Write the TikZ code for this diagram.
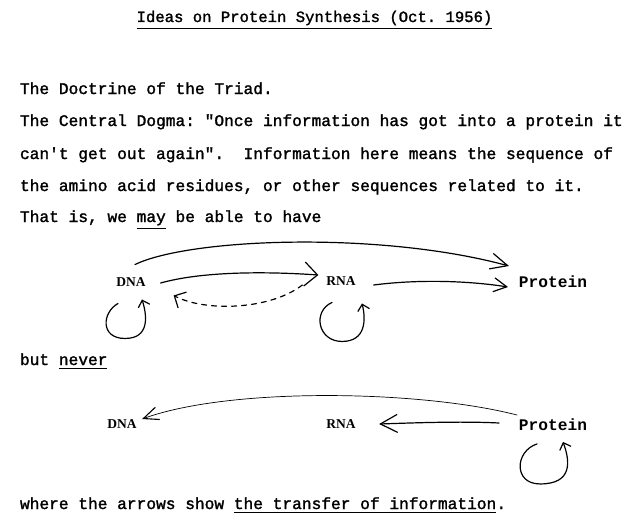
\documentclass[tikz,border=0pt]{standalone}
\usepackage{fontspec}
\setmonofont{Liberation Mono}
\newfontfamily\typefont[FakeBold=1.6]{Liberation Mono}
\newfontfamily\labelfont{Liberation Serif}
\usetikzlibrary{arrows.meta}
\newcommand\typed{\typefont\fontsize{16.2}{19}\selectfont\frenchspacing}
\newcommand\undl[1]{\leavevmode\vtop{\hbox{#1}\kern2.5pt\hrule height 1.1pt}}
\begin{document}
\begin{tikzpicture}[x=1pt, y=-1pt, line width=1.2pt, line cap=round,
  every node/.style={inner sep=0pt, outer sep=0pt}]
	\tikzstyle{line} = [anchor=base west, font=\typed]
	\tikzstyle{mol} = [font=\labelfont\bfseries\fontsize{13.5}{13.5}\selectfont]
	\tikzstyle{prot} = [font=\ttfamily\bfseries\fontsize{16.2}{16}\selectfont]
	\tikzstyle{thin} = [line width=0.7pt]
	\fill[white] (0,0) rectangle (634,527);
	\useasboundingbox (0,0) rectangle (634,527);
	\node[line, anchor=base] (title) at (314.5,22) {\fontsize{15.6}{16}\selectfont\undl{Ideas on Protein Synthesis (Oct. 1956)}};
	\node[line] (triad) at (20,94) {The Doctrine of the Triad.};
	\node[line] (dogma1) at (20,126) {The Central Dogma: "Once information has got into a protein it};
	\node[line] (dogma2) at (20,159) {can't get out again".~ Information here means the sequence of};
	\node[line] (dogma3) at (20,191) {the amino acid residues, or other sequences related to it.};
	\node[line] (thatis) at (20,222) {That is, we \undl{may} be able to have};
	% what may happen
	\node[mol] (dnaA) at (131,282) {DNA};
	\node[mol] (rnaA) at (341,281) {RNA};
	\node[prot] (protA) at (553,282) {Protein};
	\draw[-{Straight Barb[length=17pt,width=16pt]}] ([xshift=4pt,yshift=13pt]dnaA.north) .. controls (190,238) and (380,231) .. ([xshift=-10pt,yshift=16pt]protA.west);
	\draw[-{Straight Barb[length=13pt,width=24pt]}] ([xshift=15pt,yshift=-1pt]dnaA.east) .. controls (200,272) and (260,271) .. ([xshift=-8pt,yshift=6pt]rnaA.west);
	\draw[-{Straight Barb[length=13pt,width=14pt]}] ([xshift=18pt,yshift=-4pt]rnaA.east) .. controls (420,279) and (470,281) .. ([xshift=-11pt,yshift=-5pt]protA.west);
	\draw[dash pattern=on 5pt off 5pt, -{Straight Barb[length=9pt,width=18pt]}] ([xshift=-24pt,yshift=-4pt]rnaA.west) .. controls (270,310) and (205,312) .. ([xshift=28pt,yshift=-9pt]dnaA.south east);
	\draw[-{Straight Barb[length=6pt,width=12pt]}] ([xshift=-13pt,yshift=-17pt]dnaA.south) .. controls +(-16,9) and +(-25,0) .. ([xshift=-6pt,yshift=-52pt]dnaA.south) .. controls +(25,0) and +(5,16) .. ([xshift=11pt,yshift=-13pt]dnaA.south);
	\draw[-{Straight Barb[length=6pt,width=12pt]}] ([xshift=-9pt,yshift=-17pt]rnaA.south) .. controls +(-20,9) and +(-24,0) .. ([xshift=1pt,yshift=-56pt]rnaA.south) .. controls +(24,0) and +(4,16) .. ([xshift=21pt,yshift=-18pt]rnaA.south);
	\node[line] (never) at (20,365) {but \undl{never}};
	% what never happens
	\node[mol] (dnaB) at (122,424) {DNA};
	\node[mol] (rnaB) at (341,424) {RNA};
	\node[prot] (protB) at (553,425) {Protein};
	\draw[thin, -{Straight Barb[length=15pt,width=13pt,line width=1.1pt]}] ([xshift=-2pt,yshift=10pt]protB.west) .. controls (420,390) and (230,387) .. ([xshift=5.5pt,yshift=5pt]dnaB.east);
	\draw[-{Straight Barb[length=17pt,width=18pt]}] ([xshift=-20pt,yshift=2pt]protB.west) .. controls (460,421) and (410,423) .. ([xshift=23.5pt]rnaB.east);
	\draw[-{Straight Barb[length=6pt,width=12pt]}] ([xshift=-16pt,yshift=-13pt]protB.south) .. controls +(-22,7) and +(-27,0) .. ([xshift=-13pt,yshift=-53pt]protB.south) .. controls +(33,0) and +(7,19) .. ([xshift=10pt,yshift=-11pt]protB.south);
	\node[line] (where) at (20,509) {where the arrows show \undl{the transfer of information}.};
\end{tikzpicture}
\end{document}
